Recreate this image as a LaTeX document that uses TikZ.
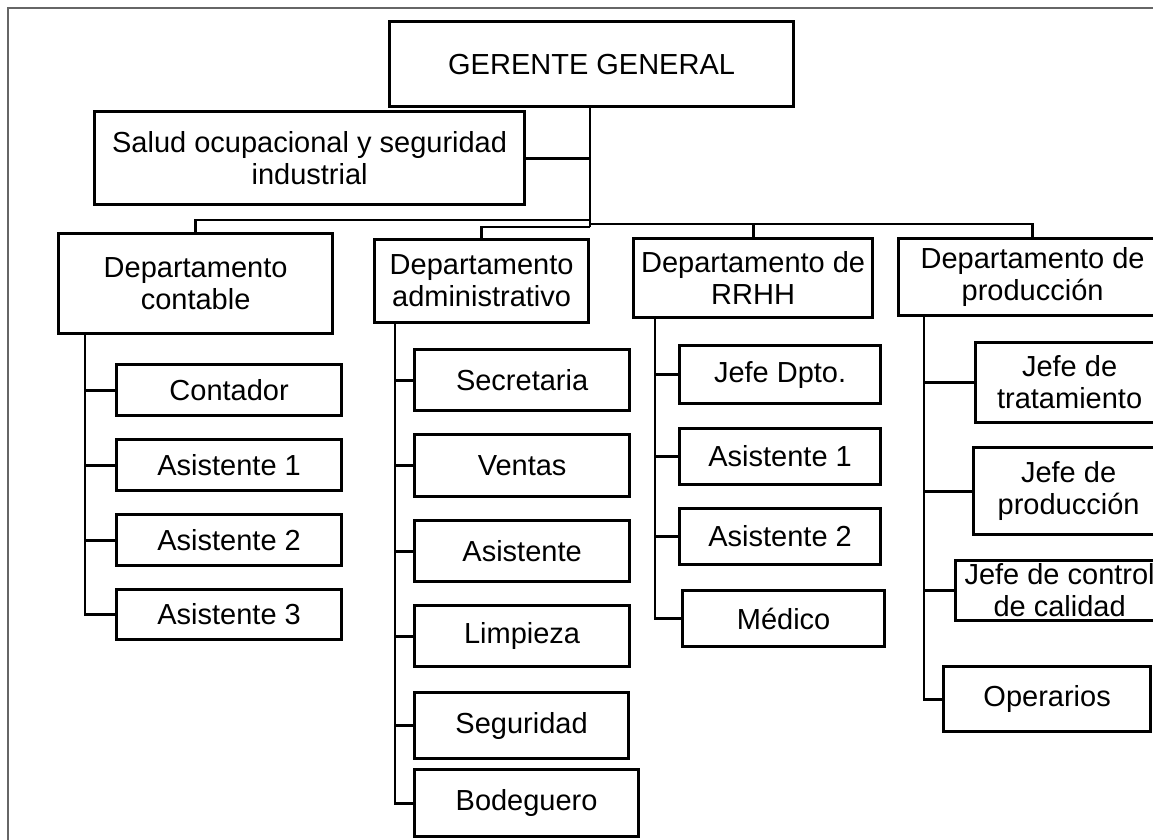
\documentclass[tikz,border=0pt]{standalone}
\usepackage{fontspec}
\setmainfont{Liberation Sans}
\usepackage{tikz}
\newcommand{\orgfont}{\fontsize{29}{32}\selectfont}

\begin{document}
\begin{tikzpicture}[x=1pt,y=-1pt,
  box/.style={draw=black,line width=3.2pt,inner sep=0pt,anchor=north west,align=center,font=\orgfont},
  link/.style={draw=black,line width=2.8pt},
  frame/.style={draw=black!60,line width=1.3pt}
]
\useasboundingbox (0,0) rectangle (1153,839);
\clip (0,0) rectangle (1153,839);
\draw[frame] (8,8) rectangle (1200,880);

% top level
\node[box,minimum width=404pt,minimum height=85pt] (ger) at (388,20) {GERENTE GENERAL};
\node[box,minimum width=430pt,minimum height=93pt] (salud) at (93,110) {Salud ocupacional y seguridad\\industrial};

% departments
\node[box,minimum width=274pt,minimum height=100pt] (cont) at (57,232) {Departamento\\contable};
\node[box,minimum width=214pt,minimum height=83pt] (adm) at (373,238) {Departamento\\administrativo};
\node[box,minimum width=239pt,minimum height=79pt] (rrhh) at (632,237) {Departamento de\\RRHH};
\node[box,minimum width=268pt,minimum height=77pt] (prod) at (897,237) {Departamento de\\producción};

% contable
\node[box,minimum width=225pt,minimum height=51pt] (c1) at (115,363) {Contador};
\node[box,minimum width=225pt,minimum height=51pt] (c2) at (115,438) {Asistente 1};
\node[box,minimum width=225pt,minimum height=51pt] (c3) at (115,513) {Asistente 2};
\node[box,minimum width=225pt,minimum height=50pt] (c4) at (115,588) {Asistente 3};

% administrativo
\node[box,minimum width=215pt,minimum height=61pt] (a1) at (413,348) {Secretaria};
\node[box,minimum width=215pt,minimum height=62pt] (a2) at (413,433) {Ventas};
\node[box,minimum width=215pt,minimum height=61pt] (a3) at (413,519) {Asistente};
\node[box,minimum width=215pt,minimum height=61pt] (a4) at (413,604) {Limpieza};
\node[box,minimum width=214pt,minimum height=66pt] (a5) at (413,691) {Seguridad};
\node[box,minimum width=224pt,minimum height=67pt] (a6) at (413,768) {Bodeguero};

% RRHH
\node[box,minimum width=201pt,minimum height=58pt] (r1) at (678,344) {Jefe Dpto.};
\node[box,minimum width=201pt,minimum height=56pt] (r2) at (678,427) {Asistente 1};
\node[box,minimum width=201pt,minimum height=56pt] (r3) at (678,507) {Asistente 2};
\node[box,minimum width=202pt,minimum height=56pt] (r4) at (681,589) {Médico};

% produccion
\node[box,minimum width=188pt,minimum height=80pt] (p1) at (974,341) {Jefe de\\tratamiento};
\node[box,minimum width=190pt,minimum height=87pt] (p2) at (972,446) {Jefe de\\producción};
\node[box,minimum width=208pt,minimum height=60pt] (p3) at (954,559) {Jefe de control\\de calidad};
\node[box,minimum width=207pt,minimum height=65pt] (p4) at (942,665) {Operarios};

% trunk and buses
\coordinate (hub) at (590,227);
\coordinate (busL) at (590,220);
\coordinate (busR) at (590,224);
\draw[link] (ger.south -| hub) -- (hub);
\draw[link] (salud.east) -- (salud.east -| hub);
\draw[link] (busL) -| (cont.north);
\draw[link] (hub) -| (adm.north);
\draw[link] (busR) -| (prod.north);
\draw[link] (busR -| rrhh.north) -- (rrhh.north);

% branches
\draw[link] (cont.south west) ++(28,0) coordinate (cv) -- (cv |- c4.west) -- (c4.west);
\foreach \k in {c1,c2,c3} \draw[link] (cv |- \k.west) -- (\k.west);
\draw[link] (adm.south west) ++(22,0) coordinate (av) -- (av |- a6.west) -- (a6.west);
\foreach \k in {a1,a2,a3,a4,a5} \draw[link] (av |- \k.west) -- (\k.west);
\draw[link] (rrhh.south west) ++(23,0) coordinate (rv) -- (rv |- r4.west) -- (r4.west);
\foreach \k in {r1,r2,r3} \draw[link] (rv |- \k.west) -- (\k.west);
\draw[link] (prod.south west) ++(27,0) coordinate (pv) -- (pv |- p4.west) -- (p4.west);
\foreach \k in {p1,p2,p3} \draw[link] (pv |- \k.west) -- (\k.west);
\end{tikzpicture}
\end{document}
